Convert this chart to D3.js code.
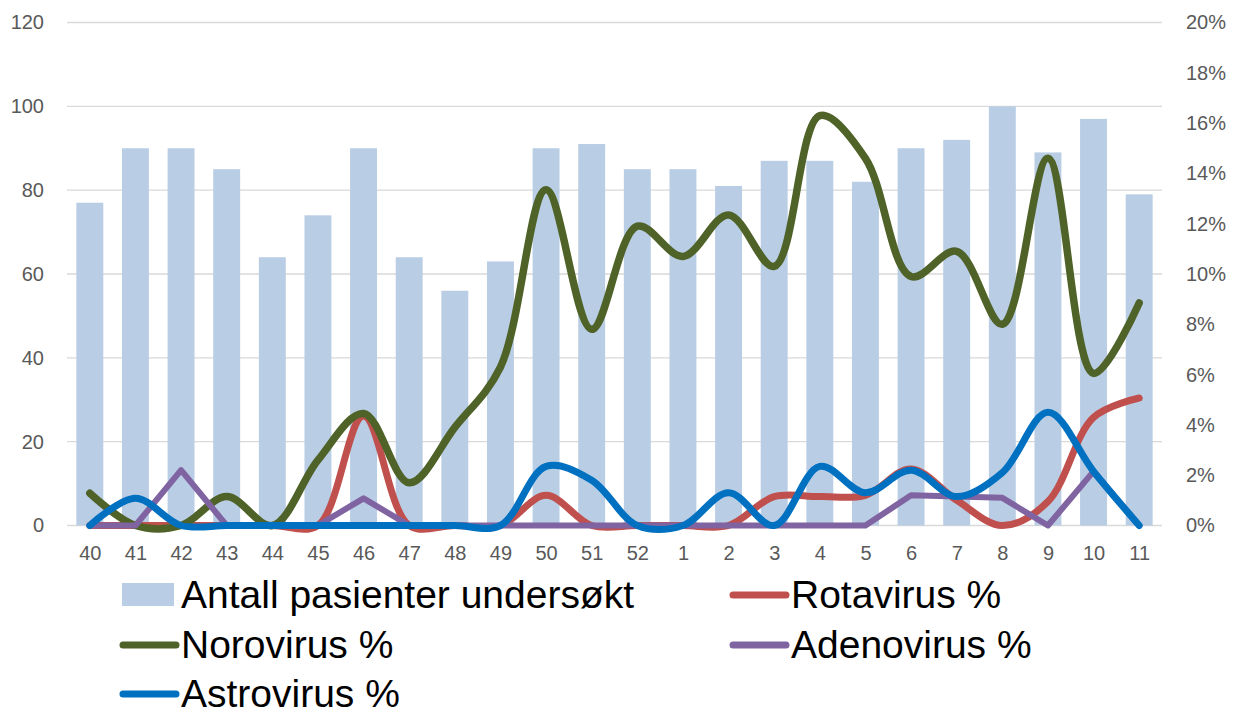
<!DOCTYPE html>
<html>
<head>
<meta charset="utf-8">
<script src="https://cdn.jsdelivr.net/npm/d3@7"></script>
<style>
    body { margin: 0; background: #ffffff; }
    svg { display: block; font-family: "Liberation Sans", Arial, sans-serif; }
</style>
</head>
<body>
<div id="chart"></div>
<script>

// weeks (uke 40 - uke 11)
var weeks = ["40", "41", "42", "43", "44", "45", "46", "47", "48", "49", "50", "51", "52",
             "1", "2", "3", "4", "5", "6", "7", "8", "9", "10", "11"];

// antall pasienter undersøkt (left axis)
var patients = [77, 90, 90, 85, 64, 74, 90, 64, 56, 63, 90, 91, 85,
                85, 81, 87, 87, 82, 90, 92, 100, 89, 97, 79];

// percentages (right axis)
var rotavirus = [0, 0, 0, 0, 0, 0, 4.35, 0, 0, 0, 1.2, 0, 0,
                 0, 0, 1.15, 1.15, 1.2, 2.25, 1.0, 0, 0.95, 4.3, 5.07];
var norovirus = [1.28, 0, 0, 1.15, 0, 2.6, 4.45, 1.7, 3.9, 6.3, 13.35, 7.8, 11.9,
                 10.7, 12.35, 10.3, 16.3, 14.6, 9.9, 10.9, 8.0, 14.6, 6.05, 8.85];
var adenovirus = [0, 0, 2.2, 0, 0, 0, 1.08, 0, 0, 0, 0, 0, 0,
                  0, 0, 0, 0, 0, 1.2, 1.15, 1.1, 0, 2.15, 0];
var astrovirus = [0, 1.08, 0, 0, 0, 0, 0, 0, 0, 0, 2.35, 1.8, 0,
                  0, 1.3, 0, 2.35, 1.3, 2.2, 1.15, 2.1, 4.5, 2.15, 0];

var leftTicks = [0, 20, 40, 60, 80, 100, 120];
var rightTicks = [0, 2, 4, 6, 8, 10, 12, 14, 16, 18, 20];

window.onload = function() {

    var width = 1234,
        height = 711;

    var svg = d3.select("#chart").append("svg")
        .attr("width", width)
        .attr("height", height);

    var x = d3.scalePoint()
        .domain(weeks)
        .range([67, 1162])
        .padding(0.5);

    var yLeft = d3.scaleLinear()
        .domain([0, 120])
        .range([525.5, 22.5]);

    var yRight = d3.scaleLinear()
        .domain([0, 20])
        .range([525.5, 22.5]);

    var barWidth = x.step() * 0.59;

    // gridlines
    svg.append("g")
        .attr("class", "grid")
        .selectAll("line")
        .data(leftTicks)
        .enter().append("line")
        .attr("x1", 67)
        .attr("x2", 1162)
        .attr("y1", function(d) { return yLeft(d); })
        .attr("y2", function(d) { return yLeft(d); })
        .style("stroke", "#d9d9d9")
        .style("stroke-width", 1.3);

    // left axis
    var leftAxis = svg.append("g")
        .attr("transform", "translate(44,0)")
        .call(d3.axisLeft(yLeft).tickValues(leftTicks).tickSize(0).tickPadding(0));
    leftAxis.select(".domain").remove();

    // right axis
    var rightAxis = svg.append("g")
        .attr("transform", "translate(1186,0)")
        .call(d3.axisRight(yRight).tickValues(rightTicks).tickSize(0).tickPadding(0)
            .tickFormat(function(d) { return d + "%"; }));
    rightAxis.select(".domain").remove();

    // bottom axis
    var bottomAxis = svg.append("g")
        .attr("transform", "translate(0,545)")
        .call(d3.axisBottom(x).tickSize(0).tickPadding(0));
    bottomAxis.select(".domain").remove();

    svg.selectAll(".tick text")
        .style("font-size", "20px")
        .style("fill", "#595959")
        .style("font-family", "'Liberation Sans', Arial, sans-serif");
    bottomAxis.selectAll(".tick text").attr("dy", "0.75em");

    // bars
    svg.append("g")
        .attr("class", "bars")
        .selectAll("rect")
        .data(patients)
        .enter().append("rect")
        .attr("x", function(d, i) { return x(weeks[i]) - barWidth / 2; })
        .attr("width", barWidth)
        .attr("y", function(d) { return yLeft(d); })
        .attr("height", function(d) { return yLeft(0) - yLeft(d); })
        .style("fill", "#b9cde5");

    var series = [
        {name: "Rotavirus %", values: rotavirus, color: "#c0504d", width: 7, smooth: true},
        {name: "Norovirus %", values: norovirus, color: "#4f6228", width: 7.5, smooth: true},
        {name: "Adenovirus %", values: adenovirus, color: "#8064a2", width: 6, smooth: false},
        {name: "Astrovirus %", values: astrovirus, color: "#0070c0", width: 7, smooth: true}
    ];

    series.forEach(function(s) {
        var line = d3.line()
            .x(function(d, i) { return x(weeks[i]); })
            .y(function(d) { return yRight(d); })
            .curve(s.smooth ? d3.curveCatmullRom.alpha(0.5) : d3.curveLinear);

        svg.append("path")
            .datum(s.values)
            .attr("d", line)
            .style("fill", "none")
            .style("stroke", s.color)
            .style("stroke-width", s.width)
            .style("stroke-linecap", "round")
            .style("stroke-linejoin", "round");
    });

    // legend
    var legendItems = [
        {name: "Antall pasienter undersøkt", type: "bar", color: "#b9cde5", col: 0, row: 0},
        {name: "Rotavirus %", type: "line", color: "#c0504d", col: 1, row: 0},
        {name: "Norovirus %", type: "line", color: "#4f6228", col: 0, row: 1},
        {name: "Adenovirus %", type: "line", color: "#8064a2", col: 1, row: 1},
        {name: "Astrovirus %", type: "line", color: "#0070c0", col: 0, row: 2}
    ];
    var colX = [121, 731],
        rowY = [595, 645, 694];

    var legend = svg.append("g").attr("class", "legend");

    legendItems.forEach(function(d) {
        var lx = colX[d.col],
            ly = rowY[d.row];
        if (d.type === "bar") {
            legend.append("rect")
                .attr("x", lx + 1)
                .attr("y", ly - 12)
                .attr("width", 52)
                .attr("height", 23)
                .style("fill", d.color);
        } else {
            legend.append("line")
                .attr("x1", lx + 2)
                .attr("x2", lx + 55)
                .attr("y1", ly)
                .attr("y2", ly)
                .style("stroke", d.color)
                .style("stroke-width", 7)
                .style("stroke-linecap", "round");
        }
        legend.append("text")
            .attr("x", lx + 60)
            .attr("y", ly + 13)
            .style("font-size", "39px")
            .style("fill", "#000000")
            .text(d.name);
    });
};
</script>
</body>
</html>
